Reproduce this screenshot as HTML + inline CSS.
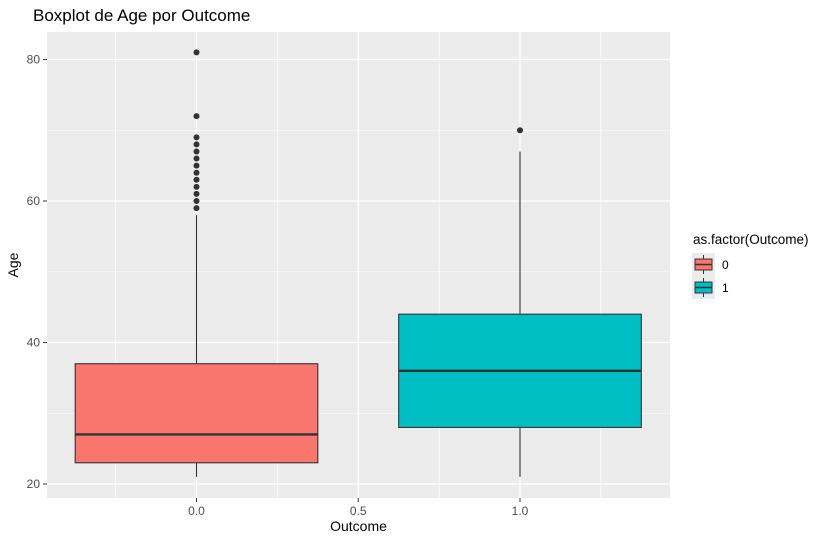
<!DOCTYPE html>
<html><head><meta charset="utf-8"><style>
body{margin:0;background:#fff;}
svg text{font-family:"Liberation Sans",sans-serif;}
</style></head><body>
<svg id="chart" width="830" height="543" xmlns="http://www.w3.org/2000/svg">
<text x="33" y="21" font-size="17" fill="#000">Boxplot de Age por Outcome</text>
<rect x="47" y="32" width="623" height="466" fill="#ebebeb"/>
<g id="grid"></g>
<g id="marks"></g>
<g id="axes"></g>
<text x="358.5" y="531" font-size="14" text-anchor="middle" fill="#000">Outcome</text>
<text transform="translate(18,265) rotate(-90)" font-size="14" text-anchor="middle" fill="#000">Age</text>
<g>
<text x="693" y="244" font-size="13.5" fill="#000">as.factor(Outcome)</text>
<rect x="692" y="253" width="23" height="46" fill="#ebebeb"/>
<line x1="703.5" y1="255" x2="703.5" y2="274" stroke="#333" stroke-width="1"/>
<rect x="695" y="259" width="17" height="11" fill="#F8766D" stroke="#333" stroke-width="1"/>
<line x1="695" y1="264.5" x2="712" y2="264.5" stroke="#333" stroke-width="1.5"/>
<line x1="703.5" y1="278" x2="703.5" y2="297" stroke="#333" stroke-width="1"/>
<rect x="695" y="282" width="17" height="11" fill="#00BFC4" stroke="#333" stroke-width="1"/>
<line x1="695" y1="287.5" x2="712" y2="287.5" stroke="#333" stroke-width="1.5"/>
<text x="722" y="269" font-size="12" fill="#000">0</text>
<text x="722" y="292" font-size="12" fill="#000">1</text>
</g>
</svg>
<script>
const groups=[0,1];
const colors=["#F8766D","#00BFC4"];
const q1=[23,28];
const medians=[27,36];
const q3=[37,44];
const whiskLo=[21,21];
const whiskHi=[58,67];
const outliers0=[59,60,61,62,63,64,65,66,67,68,69,72,81];
const outliers1=[70];
const yTicks=[20,40,60,80];
const yMinor=[30,50,70];
const xTicks=[0,0.5,1];
const xTickLabels=["0.0","0.5","1.0"];
const xMinor=[-0.25,0.25,0.75,1.25];

const X=v=>196.5+v*323.5;
const Y=v=>484-(v-20)*7.075;
const NS="http://www.w3.org/2000/svg";
function mk(parent,tag,attrs){const e=document.createElementNS(NS,tag);for(const k in attrs)e.setAttribute(k,attrs[k]);parent.appendChild(e);return e;}
const grid=document.getElementById('grid'),marks=document.getElementById('marks'),axes=document.getElementById('axes');
yMinor.forEach(v=>{const l=mk(grid,'line',{x1:47,x2:670,y1:Y(v),y2:Y(v),stroke:'#fff','stroke-width':0.6});

});
xMinor.forEach(v=>{const l=mk(grid,'line',{x1:X(v),x2:X(v),y1:32,y2:498,stroke:'#fff','stroke-width':0.6});

});
yTicks.forEach(v=>{const l=mk(grid,'line',{x1:47,x2:670,y1:Y(v),y2:Y(v),stroke:'#fff','stroke-width':1.2});


mk(axes,'line',{x1:43,x2:47,y1:Y(v),y2:Y(v),stroke:'#333','stroke-width':1});
const t=mk(axes,'text',{x:40,y:Y(v)+4,'font-size':12,'text-anchor':'end',fill:'#4d4d4d'});t.textContent=v;

});
xTicks.forEach((v,i)=>{const l=mk(grid,'line',{x1:X(v),x2:X(v),y1:32,y2:498,stroke:'#fff','stroke-width':1.2});


mk(axes,'line',{x1:X(v),x2:X(v),y1:498,y2:502,stroke:'#333','stroke-width':1});
const t=mk(axes,'text',{x:X(v),y:515,'font-size':12,'text-anchor':'middle',fill:'#4d4d4d'});t.textContent=xTickLabels[i];

});
const outs=[outliers0,outliers1];
groups.forEach((g,i)=>{const cx=X(g),hw=0.375*323.5;
const w1=mk(marks,'line',{x1:cx,x2:cx,y1:Y(whiskLo[i]),y2:Y(q1[i]),stroke:'#333','stroke-width':1.1});


const w2=mk(marks,'line',{x1:cx,x2:cx,y1:Y(whiskHi[i]),y2:Y(q3[i]),stroke:'#333','stroke-width':1.1});


const b=mk(marks,'rect',{x:cx-hw,y:Y(q3[i]),width:2*hw,height:Y(q1[i])-Y(q3[i]),fill:colors[i],stroke:'#333','stroke-width':1.1});


const m=mk(marks,'line',{x1:cx-hw,x2:cx+hw,y1:Y(medians[i]),y2:Y(medians[i]),stroke:'#333','stroke-width':2.4});


outs[i].forEach(v=>{const c=mk(marks,'circle',{cx:cx,cy:Y(v),r:3,fill:'#333'});

});});
</script>
</body></html>
